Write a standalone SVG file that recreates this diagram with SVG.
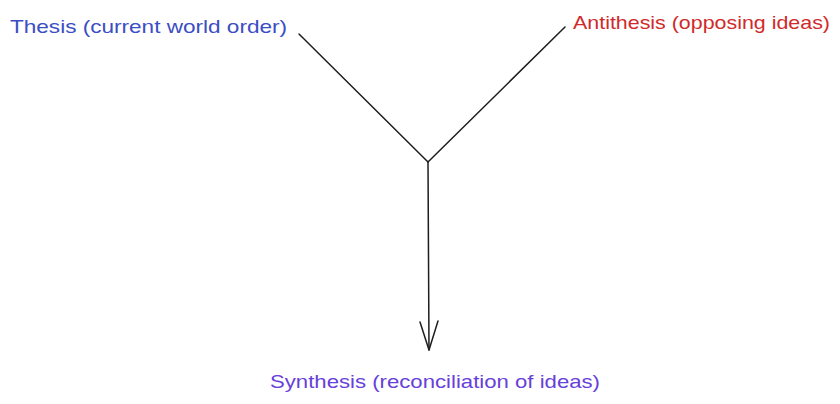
<svg xmlns="http://www.w3.org/2000/svg" width="840" height="404" viewBox="0 0 840 404">
<style>
text{font-family:"Liberation Sans","DejaVu Sans",sans-serif;font-size:19px}
.t{fill:#3b4ec4}.a{fill:#d02a2a}.s{fill:#6741d9}
.c{stroke:#1e1e1e;stroke-width:1.5;fill:none;stroke-linecap:round;stroke-linejoin:round}
</style>
<rect width="840" height="404" fill="#ffffff"/>
<g id="connectors">
<path class="c" d="M299,34 L428,162"/>
<path class="c" d="M565,27 L428,162"/>
<path class="c" d="M428,162 L429,350"/>
<path class="c" d="M420,322 L429,350 L438,321"/>
</g>
<g id="thesis"><text class="t" x="10" y="33" textLength="277" lengthAdjust="spacingAndGlyphs">Thesis (current world order)</text></g>
<g id="antithesis"><text class="a" x="573" y="29" textLength="257" lengthAdjust="spacingAndGlyphs">Antithesis (opposing ideas)</text></g>
<g id="synthesis"><text class="s" x="270" y="388" textLength="330" lengthAdjust="spacingAndGlyphs">Synthesis (reconciliation of ideas)</text></g>
</svg>
